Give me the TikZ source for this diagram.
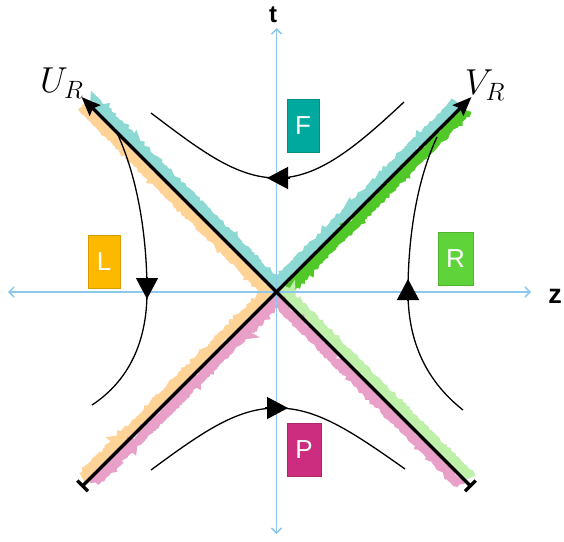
\documentclass[tikz,border=0pt]{standalone}
\usepackage{fontspec}
\newfontfamily\labelfont{Liberation Sans}
\usetikzlibrary{arrows.meta,calc,decorations.pathmorphing}
\definecolor{axisblue}{RGB}{140,200,238}
\definecolor{futureteal}{RGB}{0,169,157}
\definecolor{leftorange}{RGB}{253,185,0}
\definecolor{rightgreen}{RGB}{95,212,58}
\definecolor{pastpink}{RGB}{204,45,126}
\definecolor{bandteal}{RGB}{140,216,210}
\definecolor{bandorange}{RGB}{255,210,150}
\definecolor{bandgreen}{RGB}{80,200,40}
\definecolor{bandlight}{RGB}{190,240,170}
\definecolor{bandpink}{RGB}{232,160,200}

\begin{document}
\begin{tikzpicture}[x=1pt,y=-1pt,
    axis/.style={axisblue, line width=1.5pt,
      {Straight Barb[length=5pt,width=10pt]}-{Straight Barb[length=5pt,width=10pt]}},
    horizon/.style={line width=3.2pt,
      {Bar[width=15pt]}-{Stealth[length=19pt,width=15pt,inset=3pt]}},
    band/.style={line width=9.5pt, line cap=butt, decorate,
      decoration={random steps, segment length=2pt, amplitude=1.3pt}},
    orbit/.style={line width=1.3pt},
    flowtip/.style={line width=1.3pt, -{Triangle[length=21pt,width=22pt]}},
    wedge/.style={minimum width=32pt, minimum height=53pt, inner sep=0pt,
      text=white, font=\labelfont\fontsize{26}{30}\selectfont},
    horlabel/.style={font=\fontsize{24}{28}\selectfont, scale=1.45}]
  \useasboundingbox (0,0) rectangle (564,541);
  \pgfmathsetseed{7}
  \coordinate (O) at (276.5,292);

  % coloured bands along the horizons
  \draw[band, bandteal]   ($(O)+(4.5,-4.5)$)  -- ++(-186,-186);
  \draw[band, bandorange] ($(O)+(-4.5,4.5)$)  -- ++(-190,-190);
  \draw[band, bandteal]   ($(O)+(-4.5,-4.5)$) -- ++(184,-184);
  \draw[band, bandgreen]  ($(O)+(4.5,4.5)$)   -- ++(186,-186);
  \draw[band, bandlight]  ($(O)+(4.5,-4.5)$)  -- ++(190,190);
  \draw[band, bandpink]   ($(O)+(-4.5,4.5)$)  -- ++(188,188);
  \draw[band, bandorange] ($(O)+(-4.5,-4.5)$) -- ++(-190,190);
  \draw[band, bandpink]   ($(O)+(4.5,4.5)$)   -- ++(-186,186);

  % axes
  \coordinate (zl) at (8,292);
  \coordinate (zr) at (531,292);
  \coordinate (tb) at (276.5,534);
  \coordinate (tt) at (276.5,28);
  \draw[axis] (zl) -- (zr);
  \draw[axis] (tb) -- (tt);
  \node[font=\labelfont\bfseries\fontsize{24}{28}\selectfont] (tlab) at (273,15) {t};
  \node[font=\labelfont\bfseries\fontsize{27}{30}\selectfont] (zlab) at (555,296) {z};

  % horizons
  \coordinate (ll) at ($(O)+(-195,195)$);
  \coordinate (ur) at ($(O)+(195,-195)$);
  \coordinate (lr) at ($(O)+(195,195)$);
  \coordinate (ul) at ($(O)+(-195,-195)$);
  \draw[horizon] (ll) -- (ur);
  \draw[horizon] (lr) -- (ul);
  \node[horlabel] (UR) at (62,83) {$U_R$};
  \node[horlabel] (VR) at (485,85) {$V_R$};

  % boost orbits
  \draw[orbit] (404,102) .. controls (355,148) and (318,178) .. (277,178)
    .. controls (236,178) and (200,150) .. (151,113);
  \draw[orbit] (118,135) .. controls (139,182) and (147,240) .. (147,292)
    .. controls (147,340) and (130,380) .. (92,405);
  \draw[orbit] (463,410) .. controls (425,380) and (408,340) .. (408,292)
    .. controls (408,240) and (416,182) .. (437,137);
  \draw[orbit] (151,470) .. controls (205,430) and (238,408) .. (277,408)
    .. controls (316,408) and (350,430) .. (405,469);
  \draw[flowtip] (290,178) -- (267,178);
  \draw[flowtip] (147,277) -- (147,299);
  \draw[flowtip] (408,301) -- (408,279);
  \draw[flowtip] (265,408) -- (288,408);

  % wedges
  \node[wedge, fill=futureteal, draw=futureteal!85!black, line width=0.4pt] (F) at (303,125.5) {F};
  \node[wedge, fill=leftorange, draw=leftorange!85!black, line width=0.4pt] (L) at (104,262) {L};
  \node[wedge, fill=rightgreen, draw=rightgreen!85!black, line width=0.4pt, minimum width=35pt] (R) at (455.5,259) {R};
  \node[wedge, fill=pastpink, draw=pastpink!85!black, line width=0.4pt, minimum width=34pt] (P) at (304,450) {P};
\end{tikzpicture}
\end{document}
